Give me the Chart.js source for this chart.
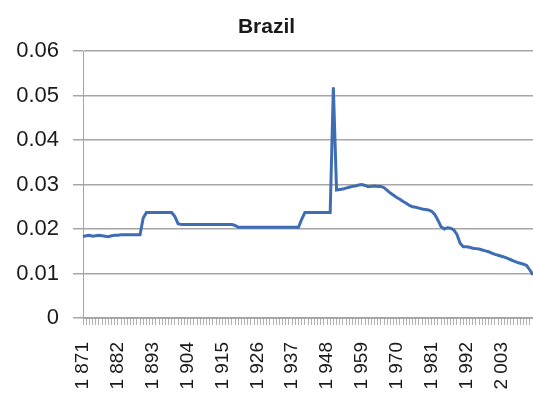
<!DOCTYPE html>
<html>
<head>
<meta charset="utf-8">
<script src="https://cdn.jsdelivr.net/npm/chart.js@4.4.0/dist/chart.umd.min.js"></script>
<style>
  html, body { margin: 0; padding: 0; background: #fff; }
  #wrap { width: 533px; height: 406px; }
</style>
</head>
<body>
<div id="wrap"><canvas id="myChart"></canvas></div>
<script>
// years 1871 .. 2013, one point per year
const firstYear = 1871
const lastYear = 2013
const years = []
for (let y = firstYear; y <= lastYear; y++) years.push(y)

// values
const values = [
  0.0183, 0.0185, 0.0186, 0.0184, 0.0185, 0.0186, 0.0185, 0.0184, 0.0183, 0.0185, // 1871-1880
  0.0186, 0.0186, 0.0187, 0.0187, 0.0187, 0.0187, 0.0187, 0.0187, 0.0187, 0.0225, // 1881-1890
  0.0237, 0.0237, 0.0237, 0.0237, 0.0237, 0.0237, 0.0237, 0.0237, 0.0237, 0.0228, // 1891-1900
  0.0212, 0.0210, 0.0210, 0.0210, 0.0210, 0.0210, 0.0210, 0.0210, 0.0210, 0.0210, // 1901-1910
  0.0210, 0.0210, 0.0210, 0.0210, 0.0210, 0.0210, 0.0210, 0.0210, 0.0208, 0.0204, // 1911-1920
  0.0204, 0.0204, 0.0204, 0.0204, 0.0204, 0.0204, 0.0204, 0.0204, 0.0204, 0.0204, // 1921-1930
  0.0204, 0.0204, 0.0204, 0.0204, 0.0204, 0.0204, 0.0204, 0.0204, 0.0204, 0.0222, // 1931-1940
  0.0237, 0.0237, 0.0237, 0.0237, 0.0237, 0.0237, 0.0237, 0.0237, 0.0237, 0.0519, // 1941-1950
  0.0288, 0.0289, 0.0290, 0.0292, 0.0294, 0.0296, 0.0297, 0.0299, 0.0300, 0.0298, // 1951-1960
  0.0295, 0.0296, 0.0297, 0.0296, 0.0296, 0.0293, 0.0287, 0.0281, 0.0276, 0.0271, // 1961-1970
  0.0267, 0.0262, 0.0258, 0.0253, 0.0250, 0.0249, 0.0247, 0.0245, 0.0244, 0.0243, // 1971-1980
  0.0240, 0.0233, 0.0220, 0.0205, 0.0200, 0.0203, 0.0202, 0.0198, 0.0188, 0.0168, // 1981-1990
  0.0160, 0.0160, 0.0159, 0.0157, 0.0156, 0.0155, 0.0153, 0.0151, 0.0149, 0.0146, // 1991-2000
  0.0143, 0.0141, 0.0139, 0.0137, 0.0134, 0.0131, 0.0128, 0.0125, 0.0123, 0.0121, // 2001-2010
  0.0118, 0.0108, 0.0097                                                          // 2011-2013
]

const yTicks = [0, 0.01, 0.02, 0.03, 0.04, 0.05, 0.06]
const labelEvery = 11

const fontFamily = "'Liberation Sans', Arial, sans-serif"
const gridGrey = '#a6a6a6'

// year label with a thin space like "1 871"
function fmtYear(y) {
  const s = String(y)
  return s.slice(0, 1) + ' ' + s.slice(1)
}

const ctx = document.getElementById('myChart').getContext('2d')
const myChart = new Chart(ctx, {
  type: 'line',
  data: {
    labels: years,
    datasets: [{
      data: values,
      borderColor: '#3e6db3',
      borderWidth: 3,
      pointRadius: 0,
      tension: 0,
      fill: false
    }]
  },
  options: {
    responsive: true,
    maintainAspectRatio: false,
    animation: false,
    layout: { padding: { left: 0, right: 0, top: 0, bottom: 0 } },
    plugins: {
      legend: { display: false },
      tooltip: { enabled: false },
      title: {
        display: true,
        text: 'Brazil',
        color: '#1a1a1a',
        font: { family: fontFamily, size: 21, weight: 'bold' },
        padding: { top: 15, bottom: 11 }
      }
    },
    scales: {
      x: {
        type: 'category',
        offset: false,
        border: { display: true, color: gridGrey, width: 1 },
        grid: {
          display: true,
          drawOnChartArea: false,
          drawTicks: true,
          tickLength: 7,
          color: '#b0b0b0'
        },
        ticks: {
          autoSkip: false,
          minRotation: 90,
          maxRotation: 90,
          padding: 17,
          color: '#1a1a1a',
          font: { family: fontFamily, size: 19 },
          callback: function (val, index) {
            return index % labelEvery === 0 ? fmtYear(years[index]) : ''
          }
        },
        afterFit: function (scale) {
          scale.height = 88
          scale.paddingLeft = 0
          scale.paddingRight = 0
        }
      },
      y: {
        min: 0,
        max: 0.06,
        border: { display: true, color: gridGrey, width: 1 },
        grid: {
          color: gridGrey,
          lineWidth: 1.5,
          tickLength: 10
        },
        afterBuildTicks: function (scale) {
          scale.ticks = yTicks.map(v => ({ value: v }))
        },
        ticks: {
          padding: 14,
          color: '#1a1a1a',
          font: { family: fontFamily, size: 22 },
          callback: function (v) { return v === 0 ? '0' : v.toFixed(2) }
        },
        afterFit: function (scale) { scale.width = 83 }
      }
    }
  }
})
</script>
</body>
</html>
